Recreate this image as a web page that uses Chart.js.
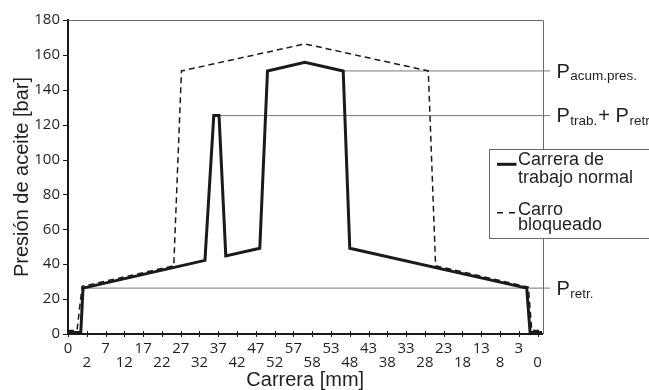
<!DOCTYPE html>
<html>
<head>
<meta charset="utf-8">
<script src="https://cdn.jsdelivr.net/npm/chart.js@4.4.1/dist/chart.umd.min.js"></script>
<style>
  html, body { margin: 0; padding: 0; background: #fff; }
  #wrap { width: 649px; height: 390px; position: relative; }
</style>
</head>
<body>
<div id="wrap"><canvas id="chart"></canvas></div>
<script>
// stroke goes forward 0 -> 58 mm and back to 0, ticks are evenly spaced
const xLabels = ['0', '2', '7', '12', '17', '22', '27', '32', '37', '42', '47', '52', '57',
                 '58', '53', '48', '43', '38', '33', '28', '23', '18', '13', '8', '3', '0'];
const yTicks = [0, 20, 40, 60, 80, 100, 120, 140, 160, 180];

// x is measured in tick steps (0 = first tick, 25 = last tick)
const normalX = [0, 0.68, 0.8, 7.29, 7.76, 8.04, 8.40, 10.21, 10.62, 12.61, 14.65, 15.0, 24.42, 24.6, 25.24];
const normalY = [0.8, 0.8, 26.3, 42.2, 125.2, 125.2, 44.8, 49.2, 150.8, 155.8, 150.8, 49.2, 26.3, 0.8, 0.8];

const blockedX = [0, 0.48, 0.75, 5.63, 6.04, 12.61, 19.18, 19.57, 24.51, 24.69, 25.24];
const blockedY = [2, 2, 27.3, 39.1, 150.8, 166.3, 150.8, 39.1, 26.9, 2, 2];

// reference pressures (thin grey lines with labels on the right)
const refLevels = [150.8, 125.2, 26.3];
const refFrom = [14.65, 8.04, 0.8];
const refTo = 25.66;
const refLabels = [
  [['P', false], ['acum.pres.', true]],
  [['P', false], ['trab.', true], ['+ P', false], ['retr.', true]],
  [['P', false], ['retr.', true]]
];

const legendLines = [['Carrera de', 'trabajo normal'], ['Carro', 'bloqueado']];

const toPoints = (xs, ys) => xs.map((v, i) => ({x: v, y: ys[i]}));

const refSets = refLevels.map((lvl, i) => ({
  data: [{x: refFrom[i], y: lvl}, {x: refTo, y: lvl}],
  borderColor: '#7a7a7a',
  borderWidth: 1,
  pointRadius: 0,
  clip: false
}));

const sansText = 'Liberation Sans, Arial, sans-serif';

const decor = {
  id: 'decor',
  afterDraw(chart) {
    const {ctx, chartArea: a, scales: {x, y}} = chart;
    ctx.save();

    // thin frame on top and right
    ctx.strokeStyle = '#6a6a6a';
    ctx.lineWidth = 1;
    ctx.beginPath();
    ctx.moveTo(a.left, a.top + 0.5);
    ctx.lineTo(Math.round(a.right) + 0.5, a.top + 0.5);
    ctx.lineTo(Math.round(a.right) + 0.5, a.bottom);
    ctx.stroke();

    // tick marks
    ctx.strokeStyle = '#1a1a1a';
    ctx.beginPath();
    x.ticks.forEach(t => {
      const px = Math.round(x.getPixelForValue(t.value)) + 0.5;
      ctx.moveTo(px, a.bottom - 3);
      ctx.lineTo(px, a.bottom + 3);
    });
    y.ticks.forEach(t => {
      const py = Math.round(y.getPixelForValue(t.value)) + 0.5;
      ctx.moveTo(a.left - 5, py);
      ctx.lineTo(a.left, py);
    });
    ctx.stroke();

    // labels of the reference lines
    ctx.fillStyle = '#231f20';
    ctx.textBaseline = 'alphabetic';
    ctx.textAlign = 'left';
    refLabels.forEach((parts, i) => {
      const py = y.getPixelForValue(refLevels[i]);
      let px = a.right + 14;
      parts.forEach(([txt, sub]) => {
        ctx.font = sub ? '13.5px ' + sansText : '20px ' + sansText;
        ctx.fillText(txt, px, py + (sub ? 9.5 : 6.8));
        px += ctx.measureText(txt).width + (sub ? 1 : 0.5);
      });
    });

    // legend box
    const bx = a.right - 53.5, by = a.top + 129.3;
    ctx.fillStyle = '#fff';
    ctx.fillRect(bx, by, 200, 89);
    ctx.strokeStyle = '#6a6a6a';
    ctx.lineWidth = 1;
    ctx.strokeRect(Math.round(bx) + 0.5, Math.round(by) + 0.5, 200, 89);

    ctx.strokeStyle = '#1a1a1a';
    ctx.lineWidth = 3;
    ctx.beginPath();
    ctx.moveTo(bx + 8, by + 15);
    ctx.lineTo(bx + 27.5, by + 15);
    ctx.stroke();

    ctx.lineWidth = 1.5;
    ctx.setLineDash([6, 6]);
    ctx.beginPath();
    ctx.moveTo(bx + 8, by + 63.5);
    ctx.lineTo(bx + 27.5, by + 63.5);
    ctx.stroke();
    ctx.setLineDash([]);

    ctx.fillStyle = '#231f20';
    ctx.font = '18px ' + sansText;
    const baselines = [[15.7, 34], [65.7, 80.7]];
    legendLines.forEach((lines, i) => {
      lines.forEach((txt, j) => ctx.fillText(txt, bx + 29, by + baselines[i][j]));
    });

    ctx.restore();
  }
};

new Chart(document.getElementById('chart'), {
  type: 'line',
  data: {
    datasets: [
      {
        label: 'Carrera de trabajo normal',
        data: toPoints(normalX, normalY),
        borderColor: '#1a1a1a',
        borderWidth: 3,
        pointRadius: 0,
        borderJoinStyle: 'miter'
      },
      {
        label: 'Carro bloqueado',
        data: toPoints(blockedX, blockedY),
        borderColor: '#1a1a1a',
        borderWidth: 1.5,
        borderDash: [6, 4],
        pointRadius: 0
      },
      ...refSets
    ]
  },
  options: {
    responsive: true,
    maintainAspectRatio: false,
    animation: false,
    layout: { padding: { top: 20, right: 106.5, left: 0, bottom: 0 } },
    plugins: { legend: { display: false }, tooltip: { enabled: false } },
    scales: {
      x: {
        type: 'linear',
        min: 0,
        max: 25.26,
        afterBuildTicks: s => { s.ticks = xLabels.map((_, i) => ({value: i})); },
        afterFit: s => { s.height = 56; },
        grid: { display: false, drawTicks: false },
        border: { display: true, color: '#1a1a1a', width: 2 },
        ticks: {
          autoSkip: false,
          maxRotation: 0,
          padding: 7,
          color: '#231f20',
          font: { family: 'Open Sans', size: 15, lineHeight: 0.98 },
          callback: (v, i) => (i % 2 ? ['', xLabels[i]] : xLabels[i])
        },
        title: {
          display: true,
          text: 'Carrera [mm]',
          color: '#231f20',
          font: { family: sansText, size: 20, lineHeight: 1.0 },
          padding: { top: 0, bottom: 0 }
        }
      },
      y: {
        min: 0,
        max: 180,
        afterBuildTicks: s => { s.ticks = yTicks.map(v => ({value: v})); },
        afterFit: s => { s.width = 68; },
        grid: { display: false, drawTicks: false },
        border: { display: true, color: '#1a1a1a', width: 2 },
        ticks: {
          padding: 8,
          color: '#231f20',
          font: { family: 'Open Sans', size: 15 }
        },
        title: {
          display: true,
          text: 'Presión de aceite [bar]',
          color: '#231f20',
          font: { family: sansText, size: 20, lineHeight: 1.2 },
          padding: { top: 10, bottom: 0 }
        }
      }
    }
  },
  plugins: [decor]
});
</script>
</body>
</html>
